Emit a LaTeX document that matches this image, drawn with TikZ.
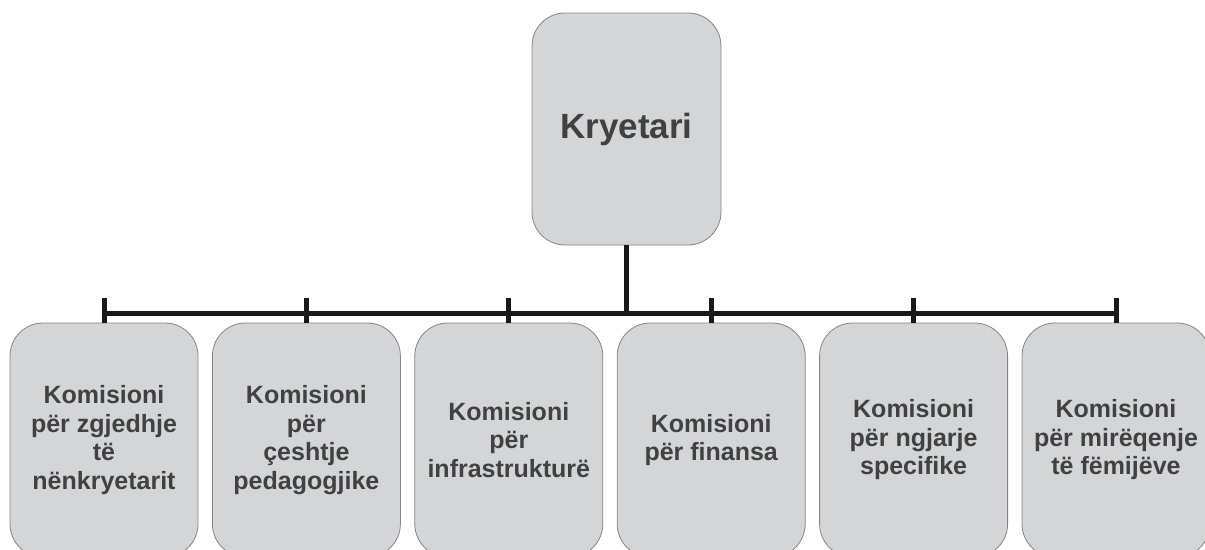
\documentclass[tikz,border=0pt]{standalone}
\usepackage{fontspec}
\setmainfont{Liberation Sans}
\definecolor{boxgray}{HTML}{D4D5D7}
\definecolor{edgegray}{HTML}{858585}
\definecolor{txtgray}{HTML}{414141}
\tikzset{
  unit/.style={draw=edgegray, line width=0.8pt, fill=boxgray, rounded corners=33pt,
    minimum width=188pt, minimum height=234pt, align=center, text=txtgray,
    font=\fontsize{25}{28.5}\selectfont\bfseries},
  bar/.style={line width=5pt, draw=black!90}
}
\begin{document}
\begin{tikzpicture}[x=1pt, y=-1pt]
\useasboundingbox (0,0) rectangle (1205,549);
\clip (0,0) rectangle (1205,549);
\node[unit, minimum width=189pt, minimum height=232pt, font=\fontsize{35}{40}\selectfont\bfseries] (chair) at (626.5,129) {Kryetari};
\foreach \i/\txt in {1/{Komisioni\\për zgjedhje\\të\\nënkryetarit},
                     2/{Komisioni\\për\\çeshtje\\pedagogjike},
                     3/{Komisioni\\për\\infrastrukturë},
                     4/{Komisioni\\për finansa},
                     5/{Komisioni\\për ngjarje\\specifike},
                     6/{Komisioni\\për mirëqenje\\të fëmijëve}}
{
    \node[unit] (k\i) at ({104+202.4*(\i-1)},440) {\txt};
    \draw[bar] (k\i.north) -- ++(0,-25);
}
\coordinate (bar) at (0,313);
\draw[bar] (k1.north |- bar) -- (k6.north |- bar);
\draw[bar] (chair.south) -- (chair.south |- bar);

\end{tikzpicture}
\end{document}
